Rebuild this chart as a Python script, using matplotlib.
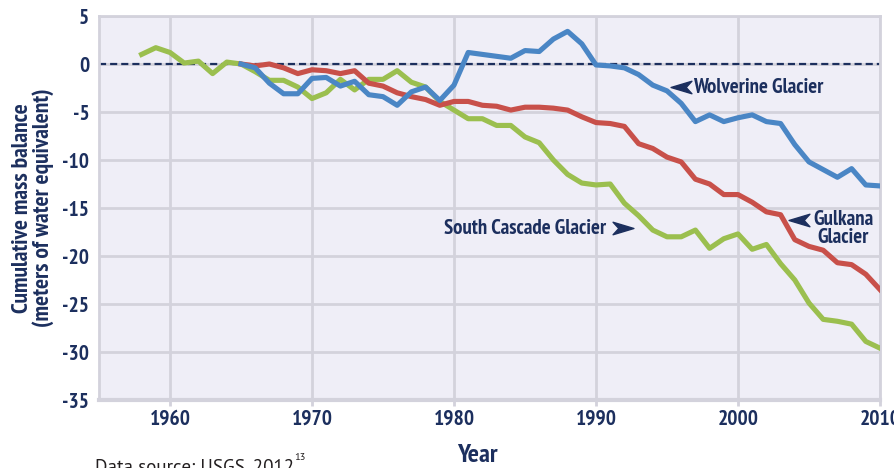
import numpy as np
import matplotlib
matplotlib.use("Agg")
import matplotlib.pyplot as plt
from matplotlib.path import Path

# cumulative mass balance, meters of water equivalent
years_sc = list(range(1958, 2011))
south_cascade = [1.0, 1.7, 1.2, 0.1, 0.3, -1.0, 0.2, 0.0, -0.8, -1.7,
                 -1.7, -2.4, -3.6, -3.0, -1.6, -2.7, -1.6, -1.6, -0.7, -1.9,
                 -2.4, -3.9, -4.8, -5.7, -5.7, -6.4, -6.4, -7.6, -8.2, -10.0,
                 -11.5, -12.4, -12.6, -12.5, -14.5, -15.8, -17.3, -18.0, -18.0, -17.3,
                 -19.2, -18.2, -17.7, -19.3, -18.8, -20.8, -22.5, -24.9, -26.6, -26.8,
                 -27.1, -28.9, -29.6]

years_ak = list(range(1965, 2011))
gulkana = [0.0, -0.2, 0.0, -0.4, -1.0, -0.6, -0.7, -1.0, -0.7, -2.0,
           -2.3, -3.0, -3.4, -3.7, -4.3, -3.9, -3.9, -4.3, -4.4, -4.8,
           -4.5, -4.5, -4.6, -4.8, -5.5, -6.1, -6.2, -6.5, -8.3, -8.8,
           -9.7, -10.2, -12.0, -12.5, -13.6, -13.6, -14.4, -15.4, -15.7, -18.3,
           -19.0, -19.4, -20.7, -20.9, -21.9, -23.5]
wolverine = [0.0, -0.4, -2.0, -3.1, -3.1, -1.5, -1.4, -2.3, -1.8, -3.2,
             -3.4, -4.3, -2.9, -2.4, -3.8, -2.2, 1.2, 1.0, 0.8, 0.6,
             1.4, 1.3, 2.6, 3.4, 2.1, -0.1, -0.2, -0.4, -1.1, -2.2,
             -2.8, -4.1, -6.0, -5.3, -6.0, -5.6, -5.3, -6.0, -6.2, -8.4,
             -10.2, -11.0, -11.8, -10.9, -12.6, -12.7]

xticks = [1960, 1970, 1980, 1990, 2000, 2010]
yticks = [5, 0, -5, -10, -15, -20, -25, -30, -35]

plt.rcParams["axes.unicode_minus"] = False

navy = "#1c2f5e"
grid_c = "#d3d2dc"
narrow = ["PT Sans Narrow", "DejaVu Sans"]
bold = dict(family=narrow, weight="bold", color=navy)

fig = plt.figure(figsize=(8.95, 4.68), dpi=100)
ax = fig.add_axes([99 / 895, 1 - 400 / 468, 781 / 895, 384 / 468])
ax.set_facecolor("#efeef7")

ax.set_xlim(1955, 2010)
ax.set_ylim(-35, 5)
ax.set_xticks(xticks)
ax.set_yticks(yticks)
ax.grid(True, color=grid_c, lw=2.0, zorder=0)
ax.set_axisbelow(True)
for s in ax.spines.values():
    s.set_color(grid_c)
    s.set_linewidth(2.0)
ax.spines["bottom"].set_linewidth(3.0)
ax.tick_params(axis="y", length=0, pad=7)
ax.tick_params(axis="x", length=4, width=2, color=grid_c, pad=3)
for lab in ax.get_xticklabels() + ax.get_yticklabels():
    lab.set_fontfamily(narrow)
    lab.set_fontweight("bold")
    lab.set_fontsize(15.5)
    lab.set_color(navy)

ax.axhline(0, color=navy, lw=1.6, dashes=(3.2, 1.8), zorder=2)

ax.plot(years_sc, south_cascade, color="#9bbf4f", lw=3.7, zorder=3)
ax.plot(years_ak, gulkana, color="#c8504a", lw=3.7, zorder=4)
ax.plot(years_ak, wolverine, color="#4a86c5", lw=3.7, zorder=5)

# notched arrowheads for the labels
left_head = Path([(-1, 0), (1, 0.6), (0.45, 0), (1, -0.6), (-1, 0)],
                 [Path.MOVETO, Path.LINETO, Path.LINETO, Path.LINETO, Path.CLOSEPOLY])
right_head = Path([(1, 0), (-1, 0.6), (-0.45, 0), (-1, -0.6), (1, 0)],
                  [Path.MOVETO, Path.LINETO, Path.LINETO, Path.LINETO, Path.CLOSEPOLY])

ax.plot([1996.0], [-2.4], marker=left_head, ms=15, color=navy, mec=navy, zorder=6)
ax.text(1996.8, -2.4, "Wolverine Glacier", fontsize=15, ha="left", va="center", **bold)

ax.plot([2004.3], [-16.2], marker=left_head, ms=15, color=navy, mec=navy, zorder=6)
ax.text(2007.4, -17.1, "Gulkana\nGlacier", fontsize=15, ha="center", va="center",
        linespacing=0.95, **bold)

ax.plot([1991.9], [-17.1], marker=right_head, ms=15, color=navy, mec=navy, zorder=6)
ax.text(1990.7, -17.1, "South Cascade Glacier", fontsize=15, ha="right", va="center", **bold)

fig.text(33 / 895, 1 - 208 / 468, "Cumulative mass balance\n(meters of water equivalent)",
         rotation=90, ha="center", va="center", ma="center", fontsize=17,
         linespacing=0.95, **bold)
fig.text(477 / 895, 1 - 456 / 468, "Year", ha="center", va="center", fontsize=19, **bold)

src = fig.text(95 / 895, -4 / 468, "Data source: USGS, 2012", ha="left", va="baseline",
               fontsize=13.7, color="#231f20", family=["PT Sans", "DejaVu Sans"])
ax.annotate("13", xy=(1.0, 0.8), xycoords=src, ha="left", va="bottom", fontsize=7.5,
            color="#231f20", family=["PT Sans", "DejaVu Sans"], annotation_clip=False)

fig.savefig("out.png", dpi=100)
